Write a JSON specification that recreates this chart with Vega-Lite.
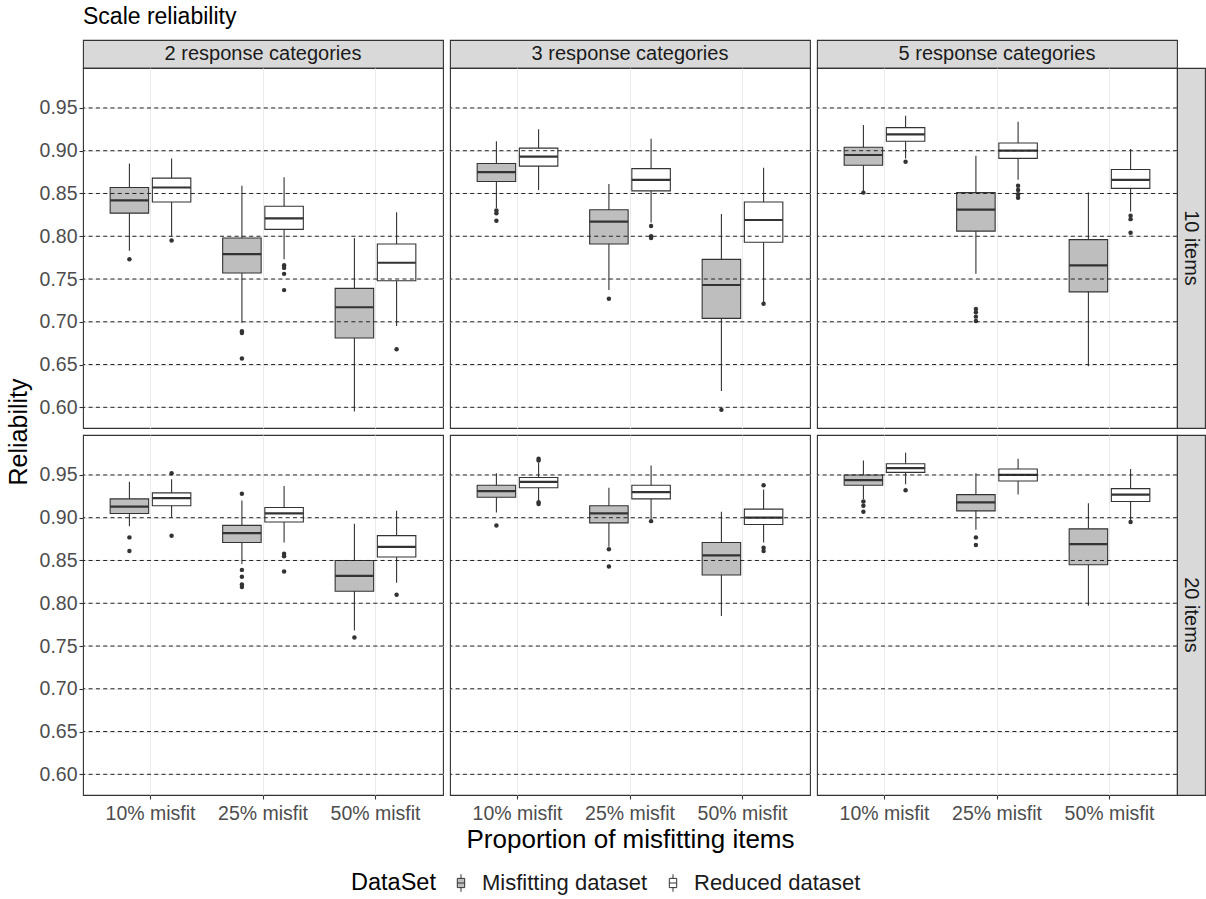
{
"$schema": "https://vega.github.io/schema/vega-lite/v6.json",
"padding": {"left": 5, "top": 6, "right": 0, "bottom": 5},
"title": {"text": "Scale reliability", "anchor": "start", "frame": "group", "fontSize": 23, "fontWeight": "normal", "color": "#000000", "font": "Liberation Sans", "offset": 10},
"config": {
  "font": "Liberation Sans",
  "view": {"stroke": "#333333", "strokeWidth": 1.1},
  "axis": {"domain": false, "labelFont": "Liberation Sans", "titleFont": "Liberation Sans", "labelFontSize": 19.5, "labelColor": "#4D4D4D", "tickColor": "#333333", "tickSize": 4, "tickWidth": 1.1, "titleFontSize": 25, "titleFontWeight": "normal", "titleColor": "#000000", "gridColor": "#EBEBEB", "gridWidth": 1},
  "legend": {"orient": "bottom", "direction": "horizontal", "titleOrient": "left", "titleFontSize": 23.5, "titleFontWeight": "normal", "titleColor": "#000000", "labelFontSize": 22, "labelLimit": 400, "labelColor": "#1A1A1A", "symbolType": "M-0.4,-0.5H0.4V0.5H-0.4Z M0,-0.5V-0.95 M0,0.5V0.95 M-0.4,0H0.4", "symbolSize": 340, "symbolStrokeColor": "#333333", "symbolStrokeWidth": 1, "columnPadding": 14, "labelOffset": 10, "titlePadding": 14, "offset": 18, "layout": {"bottom": {"anchor": "middle", "bounds": "flush"}}}
},
"datasets": {
  "stats": [
    {"cat":"2","items":"10","prop":"10% misfit","set":"Misfitting dataset","lo":0.783,"q1":0.827,"med":0.842,"q3":0.857,"hi":0.885},
    {"cat":"2","items":"10","prop":"10% misfit","set":"Reduced dataset","lo":0.800,"q1":0.840,"med":0.857,"q3":0.868,"hi":0.891},
    {"cat":"2","items":"10","prop":"25% misfit","set":"Misfitting dataset","lo":0.699,"q1":0.757,"med":0.779,"q3":0.798,"hi":0.859},
    {"cat":"2","items":"10","prop":"25% misfit","set":"Reduced dataset","lo":0.773,"q1":0.808,"med":0.821,"q3":0.835,"hi":0.869},
    {"cat":"2","items":"10","prop":"50% misfit","set":"Misfitting dataset","lo":0.595,"q1":0.681,"med":0.717,"q3":0.739,"hi":0.798},
    {"cat":"2","items":"10","prop":"50% misfit","set":"Reduced dataset","lo":0.695,"q1":0.748,"med":0.769,"q3":0.791,"hi":0.828},
    {"cat":"3","items":"10","prop":"10% misfit","set":"Misfitting dataset","lo":0.833,"q1":0.864,"med":0.875,"q3":0.885,"hi":0.911},
    {"cat":"3","items":"10","prop":"10% misfit","set":"Reduced dataset","lo":0.854,"q1":0.882,"med":0.893,"q3":0.903,"hi":0.925},
    {"cat":"3","items":"10","prop":"25% misfit","set":"Misfitting dataset","lo":0.737,"q1":0.791,"med":0.817,"q3":0.831,"hi":0.861},
    {"cat":"3","items":"10","prop":"25% misfit","set":"Reduced dataset","lo":0.816,"q1":0.853,"med":0.866,"q3":0.879,"hi":0.914},
    {"cat":"3","items":"10","prop":"50% misfit","set":"Misfitting dataset","lo":0.619,"q1":0.704,"med":0.743,"q3":0.773,"hi":0.826},
    {"cat":"3","items":"10","prop":"50% misfit","set":"Reduced dataset","lo":0.723,"q1":0.793,"med":0.819,"q3":0.840,"hi":0.880},
    {"cat":"5","items":"10","prop":"10% misfit","set":"Misfitting dataset","lo":0.853,"q1":0.883,"med":0.895,"q3":0.904,"hi":0.930},
    {"cat":"5","items":"10","prop":"10% misfit","set":"Reduced dataset","lo":0.891,"q1":0.911,"med":0.919,"q3":0.927,"hi":0.941},
    {"cat":"5","items":"10","prop":"25% misfit","set":"Misfitting dataset","lo":0.756,"q1":0.806,"med":0.831,"q3":0.851,"hi":0.894},
    {"cat":"5","items":"10","prop":"25% misfit","set":"Reduced dataset","lo":0.866,"q1":0.891,"med":0.900,"q3":0.909,"hi":0.934},
    {"cat":"5","items":"10","prop":"50% misfit","set":"Misfitting dataset","lo":0.648,"q1":0.735,"med":0.766,"q3":0.796,"hi":0.851},
    {"cat":"5","items":"10","prop":"50% misfit","set":"Reduced dataset","lo":0.829,"q1":0.856,"med":0.866,"q3":0.878,"hi":0.902},
    {"cat":"2","items":"20","prop":"10% misfit","set":"Misfitting dataset","lo":0.890,"q1":0.905,"med":0.913,"q3":0.922,"hi":0.942},
    {"cat":"2","items":"20","prop":"10% misfit","set":"Reduced dataset","lo":0.900,"q1":0.914,"med":0.923,"q3":0.929,"hi":0.945},
    {"cat":"2","items":"20","prop":"25% misfit","set":"Misfitting dataset","lo":0.846,"q1":0.871,"med":0.882,"q3":0.891,"hi":0.920},
    {"cat":"2","items":"20","prop":"25% misfit","set":"Reduced dataset","lo":0.871,"q1":0.895,"med":0.905,"q3":0.912,"hi":0.937},
    {"cat":"2","items":"20","prop":"50% misfit","set":"Misfitting dataset","lo":0.768,"q1":0.814,"med":0.832,"q3":0.850,"hi":0.893},
    {"cat":"2","items":"20","prop":"50% misfit","set":"Reduced dataset","lo":0.824,"q1":0.854,"med":0.866,"q3":0.879,"hi":0.908},
    {"cat":"3","items":"20","prop":"10% misfit","set":"Misfitting dataset","lo":0.906,"q1":0.924,"med":0.931,"q3":0.938,"hi":0.952},
    {"cat":"3","items":"20","prop":"10% misfit","set":"Reduced dataset","lo":0.920,"q1":0.935,"med":0.942,"q3":0.947,"hi":0.964},
    {"cat":"3","items":"20","prop":"25% misfit","set":"Misfitting dataset","lo":0.866,"q1":0.894,"med":0.905,"q3":0.914,"hi":0.935},
    {"cat":"3","items":"20","prop":"25% misfit","set":"Reduced dataset","lo":0.898,"q1":0.922,"med":0.930,"q3":0.938,"hi":0.961},
    {"cat":"3","items":"20","prop":"50% misfit","set":"Misfitting dataset","lo":0.785,"q1":0.833,"med":0.856,"q3":0.871,"hi":0.907},
    {"cat":"3","items":"20","prop":"50% misfit","set":"Reduced dataset","lo":0.871,"q1":0.892,"med":0.900,"q3":0.910,"hi":0.933},
    {"cat":"5","items":"20","prop":"10% misfit","set":"Misfitting dataset","lo":0.922,"q1":0.938,"med":0.944,"q3":0.950,"hi":0.967},
    {"cat":"5","items":"20","prop":"10% misfit","set":"Reduced dataset","lo":0.939,"q1":0.953,"med":0.958,"q3":0.963,"hi":0.976},
    {"cat":"5","items":"20","prop":"25% misfit","set":"Misfitting dataset","lo":0.886,"q1":0.908,"med":0.918,"q3":0.927,"hi":0.952},
    {"cat":"5","items":"20","prop":"25% misfit","set":"Reduced dataset","lo":0.927,"q1":0.943,"med":0.950,"q3":0.957,"hi":0.969},
    {"cat":"5","items":"20","prop":"50% misfit","set":"Misfitting dataset","lo":0.797,"q1":0.845,"med":0.869,"q3":0.887,"hi":0.917},
    {"cat":"5","items":"20","prop":"50% misfit","set":"Reduced dataset","lo":0.897,"q1":0.919,"med":0.927,"q3":0.934,"hi":0.957}
  ],
  "outliers": [
    {"cat":"2","items":"10","prop":"10% misfit","set":"Misfitting dataset","v":0.773},
    {"cat":"2","items":"10","prop":"10% misfit","set":"Reduced dataset","v":0.795},
    {"cat":"2","items":"10","prop":"25% misfit","set":"Misfitting dataset","v":0.689},
    {"cat":"2","items":"10","prop":"25% misfit","set":"Misfitting dataset","v":0.687},
    {"cat":"2","items":"10","prop":"25% misfit","set":"Misfitting dataset","v":0.657},
    {"cat":"2","items":"10","prop":"25% misfit","set":"Reduced dataset","v":0.766},
    {"cat":"2","items":"10","prop":"25% misfit","set":"Reduced dataset","v":0.763},
    {"cat":"2","items":"10","prop":"25% misfit","set":"Reduced dataset","v":0.756},
    {"cat":"2","items":"10","prop":"25% misfit","set":"Reduced dataset","v":0.737},
    {"cat":"2","items":"10","prop":"50% misfit","set":"Reduced dataset","v":0.668},
    {"cat":"3","items":"10","prop":"10% misfit","set":"Misfitting dataset","v":0.830},
    {"cat":"3","items":"10","prop":"10% misfit","set":"Misfitting dataset","v":0.827},
    {"cat":"3","items":"10","prop":"10% misfit","set":"Misfitting dataset","v":0.818},
    {"cat":"3","items":"10","prop":"25% misfit","set":"Misfitting dataset","v":0.727},
    {"cat":"3","items":"10","prop":"25% misfit","set":"Reduced dataset","v":0.812},
    {"cat":"3","items":"10","prop":"25% misfit","set":"Reduced dataset","v":0.800},
    {"cat":"3","items":"10","prop":"25% misfit","set":"Reduced dataset","v":0.798},
    {"cat":"3","items":"10","prop":"50% misfit","set":"Misfitting dataset","v":0.597},
    {"cat":"3","items":"10","prop":"50% misfit","set":"Reduced dataset","v":0.721},
    {"cat":"5","items":"10","prop":"10% misfit","set":"Misfitting dataset","v":0.851},
    {"cat":"5","items":"10","prop":"10% misfit","set":"Reduced dataset","v":0.887},
    {"cat":"5","items":"10","prop":"25% misfit","set":"Misfitting dataset","v":0.715},
    {"cat":"5","items":"10","prop":"25% misfit","set":"Misfitting dataset","v":0.711},
    {"cat":"5","items":"10","prop":"25% misfit","set":"Misfitting dataset","v":0.706},
    {"cat":"5","items":"10","prop":"25% misfit","set":"Misfitting dataset","v":0.701},
    {"cat":"5","items":"10","prop":"25% misfit","set":"Reduced dataset","v":0.859},
    {"cat":"5","items":"10","prop":"25% misfit","set":"Reduced dataset","v":0.854},
    {"cat":"5","items":"10","prop":"25% misfit","set":"Reduced dataset","v":0.849},
    {"cat":"5","items":"10","prop":"25% misfit","set":"Reduced dataset","v":0.845},
    {"cat":"5","items":"10","prop":"50% misfit","set":"Reduced dataset","v":0.824},
    {"cat":"5","items":"10","prop":"50% misfit","set":"Reduced dataset","v":0.820},
    {"cat":"5","items":"10","prop":"50% misfit","set":"Reduced dataset","v":0.804},
    {"cat":"2","items":"20","prop":"10% misfit","set":"Misfitting dataset","v":0.877},
    {"cat":"2","items":"20","prop":"10% misfit","set":"Misfitting dataset","v":0.861},
    {"cat":"2","items":"20","prop":"10% misfit","set":"Reduced dataset","v":0.952},
    {"cat":"2","items":"20","prop":"10% misfit","set":"Reduced dataset","v":0.879},
    {"cat":"2","items":"20","prop":"25% misfit","set":"Misfitting dataset","v":0.928},
    {"cat":"2","items":"20","prop":"25% misfit","set":"Misfitting dataset","v":0.839},
    {"cat":"2","items":"20","prop":"25% misfit","set":"Misfitting dataset","v":0.831},
    {"cat":"2","items":"20","prop":"25% misfit","set":"Misfitting dataset","v":0.822},
    {"cat":"2","items":"20","prop":"25% misfit","set":"Misfitting dataset","v":0.819},
    {"cat":"2","items":"20","prop":"25% misfit","set":"Reduced dataset","v":0.858},
    {"cat":"2","items":"20","prop":"25% misfit","set":"Reduced dataset","v":0.855},
    {"cat":"2","items":"20","prop":"25% misfit","set":"Reduced dataset","v":0.837},
    {"cat":"2","items":"20","prop":"50% misfit","set":"Misfitting dataset","v":0.760},
    {"cat":"2","items":"20","prop":"50% misfit","set":"Reduced dataset","v":0.810},
    {"cat":"3","items":"20","prop":"10% misfit","set":"Misfitting dataset","v":0.891},
    {"cat":"3","items":"20","prop":"10% misfit","set":"Reduced dataset","v":0.969},
    {"cat":"3","items":"20","prop":"10% misfit","set":"Reduced dataset","v":0.967},
    {"cat":"3","items":"20","prop":"10% misfit","set":"Reduced dataset","v":0.918},
    {"cat":"3","items":"20","prop":"10% misfit","set":"Reduced dataset","v":0.916},
    {"cat":"3","items":"20","prop":"25% misfit","set":"Misfitting dataset","v":0.863},
    {"cat":"3","items":"20","prop":"25% misfit","set":"Misfitting dataset","v":0.843},
    {"cat":"3","items":"20","prop":"25% misfit","set":"Reduced dataset","v":0.896},
    {"cat":"3","items":"20","prop":"50% misfit","set":"Reduced dataset","v":0.938},
    {"cat":"3","items":"20","prop":"50% misfit","set":"Reduced dataset","v":0.865},
    {"cat":"3","items":"20","prop":"50% misfit","set":"Reduced dataset","v":0.861},
    {"cat":"5","items":"20","prop":"10% misfit","set":"Misfitting dataset","v":0.919},
    {"cat":"5","items":"20","prop":"10% misfit","set":"Misfitting dataset","v":0.914},
    {"cat":"5","items":"20","prop":"10% misfit","set":"Misfitting dataset","v":0.907},
    {"cat":"5","items":"20","prop":"10% misfit","set":"Reduced dataset","v":0.932},
    {"cat":"5","items":"20","prop":"25% misfit","set":"Misfitting dataset","v":0.877},
    {"cat":"5","items":"20","prop":"25% misfit","set":"Misfitting dataset","v":0.868},
    {"cat":"5","items":"20","prop":"50% misfit","set":"Reduced dataset","v":0.895}
  ],
  "hlines": [{"y":0.60},{"y":0.65},{"y":0.70},{"y":0.75},{"y":0.80},{"y":0.85},{"y":0.90},{"y":0.95}]
},
"bounds": "flush",
"spacing": 0,
"columns": 6,
"concat": [
  {"width":360,"height":28,"data":{"values":[{"label":"2 response categories"}]},"mark":{"type":"text","fontSize":20,"color":"#1A1A1A"},"encoding":{"text":{"field":"label","type":"nominal"}},"view":{"fill":"#D9D9D9","stroke":"#333333","strokeWidth":1.1}},
  {"width":7,"height":7,"data":{"values":[{"a":1}]},"mark":{"type":"point","opacity":0},"encoding":{},"view":{"stroke":null}},
  {"width":360,"height":28,"data":{"values":[{"label":"3 response categories"}]},"mark":{"type":"text","fontSize":20,"color":"#1A1A1A"},"encoding":{"text":{"field":"label","type":"nominal"}},"view":{"fill":"#D9D9D9","stroke":"#333333","strokeWidth":1.1}},
  {"width":7,"height":7,"data":{"values":[{"a":1}]},"mark":{"type":"point","opacity":0},"encoding":{},"view":{"stroke":null}},
  {"width":360,"height":28,"data":{"values":[{"label":"5 response categories"}]},"mark":{"type":"text","fontSize":20,"color":"#1A1A1A"},"encoding":{"text":{"field":"label","type":"nominal"}},"view":{"fill":"#D9D9D9","stroke":"#333333","strokeWidth":1.1}},
  {"width":7,"height":7,"data":{"values":[{"a":1}]},"mark":{"type":"point","opacity":0},"encoding":{},"view":{"stroke":null}},

  {"width":360,"height":360,
   "layer":[
    {"data":{"name":"stats"},"transform":[{"filter":"datum.cat=='2' && datum.items=='10'"}],"mark":{"type":"rule","color":"#333333","strokeWidth":1.1},
     "encoding":{"x":{"field":"prop","type":"nominal","scale":{"domain":["10% misfit","25% misfit","50% misfit"],"paddingInner":0.25,"paddingOuter":0.225},"axis":{"labels":false,"ticks":false,"title":null,"grid":true,"bandPosition":0.5}},
      "xOffset":{"field":"set","type":"nominal","scale":{"domain":["Misfitting dataset","Reduced dataset"],"paddingInner":0.088,"paddingOuter":0.044}},
      "y":{"field":"lo","type":"quantitative","scale":{"domain":[0.5758,0.9967],"nice":false,"zero":false},"axis":{"values":[0.6,0.625,0.65,0.675,0.7,0.725,0.75,0.775,0.8,0.825,0.85,0.875,0.9,0.925,0.95,0.975],"labelExpr":"abs(datum.value*20-round(datum.value*20))<0.001 ? format(datum.value,'.2f') : ''","tickOpacity":{"condition":{"test":"abs(datum.value*20-round(datum.value*20))<0.001","value":1},"value":0},"gridColor":{"condition":{"test":"abs(datum.value*20-round(datum.value*20))<0.001","value":"#EBEBEB"},"value":"#F2F2F2"},"labelPadding":2,"title":"Reliability","titleY":363.5,"titlePadding":8}},
      "y2":{"field":"hi"}}},
    {"data":{"name":"stats"},"transform":[{"filter":"datum.cat=='2' && datum.items=='10'"}],"mark":{"type":"bar","stroke":"#333333","strokeWidth":1.1},
     "encoding":{"x":{"field":"prop","type":"nominal"},"xOffset":{"field":"set","type":"nominal"},
      "y":{"field":"q1","type":"quantitative"},"y2":{"field":"q3"},
      "fill":{"field":"set","type":"nominal","title":"DataSet","scale":{"domain":["Misfitting dataset","Reduced dataset"],"range":["#BEBEBE","#FFFFFF"]}}}},
    {"data":{"name":"stats"},"transform":[{"filter":"datum.cat=='2' && datum.items=='10'"}],"mark":{"type":"bar","stroke":"#333333","strokeWidth":2.2,"fill":"transparent"},
     "encoding":{"x":{"field":"prop","type":"nominal"},"xOffset":{"field":"set","type":"nominal"},"y":{"field":"med","type":"quantitative"},"y2":{"field":"med"}}},
    {"data":{"name":"outliers"},"transform":[{"filter":"datum.cat=='2' && datum.items=='10'"}],"mark":{"type":"point","filled":true,"color":"#333333","size":20,"opacity":1},
     "encoding":{"x":{"field":"prop","type":"nominal"},"xOffset":{"field":"set","type":"nominal"},"y":{"field":"v","type":"quantitative"}}},
    {"data":{"name":"hlines"},"mark":{"type":"rule","color":"#222222","strokeWidth":1,"strokeDash":[4,3.3]},
     "encoding":{"y":{"field":"y","type":"quantitative"}}}
   ]},
  {"width":7,"height":7,"data":{"values":[{"a":1}]},"mark":{"type":"point","opacity":0},"encoding":{},"view":{"stroke":null}},
  {"width":360,"height":360,
   "layer":[
    {"data":{"name":"stats"},"transform":[{"filter":"datum.cat=='3' && datum.items=='10'"}],"mark":{"type":"rule","color":"#333333","strokeWidth":1.1},
     "encoding":{"x":{"field":"prop","type":"nominal","scale":{"domain":["10% misfit","25% misfit","50% misfit"],"paddingInner":0.25,"paddingOuter":0.225},"axis":{"labels":false,"ticks":false,"title":null,"grid":true,"bandPosition":0.5}},
      "xOffset":{"field":"set","type":"nominal","scale":{"domain":["Misfitting dataset","Reduced dataset"],"paddingInner":0.088,"paddingOuter":0.044}},
      "y":{"field":"lo","type":"quantitative","scale":{"domain":[0.5758,0.9967],"nice":false,"zero":false},"axis":{"values":[0.6,0.625,0.65,0.675,0.7,0.725,0.75,0.775,0.8,0.825,0.85,0.875,0.9,0.925,0.95,0.975],"labels":false,"ticks":false,"title":null,"gridColor":{"condition":{"test":"abs(datum.value*20-round(datum.value*20))<0.001","value":"#EBEBEB"},"value":"#F2F2F2"}}},
      "y2":{"field":"hi"}}},
    {"data":{"name":"stats"},"transform":[{"filter":"datum.cat=='3' && datum.items=='10'"}],"mark":{"type":"bar","stroke":"#333333","strokeWidth":1.1},
     "encoding":{"x":{"field":"prop","type":"nominal"},"xOffset":{"field":"set","type":"nominal"},
      "y":{"field":"q1","type":"quantitative"},"y2":{"field":"q3"},
      "fill":{"field":"set","type":"nominal","title":"DataSet","scale":{"domain":["Misfitting dataset","Reduced dataset"],"range":["#BEBEBE","#FFFFFF"]}}}},
    {"data":{"name":"stats"},"transform":[{"filter":"datum.cat=='3' && datum.items=='10'"}],"mark":{"type":"bar","stroke":"#333333","strokeWidth":2.2,"fill":"transparent"},
     "encoding":{"x":{"field":"prop","type":"nominal"},"xOffset":{"field":"set","type":"nominal"},"y":{"field":"med","type":"quantitative"},"y2":{"field":"med"}}},
    {"data":{"name":"outliers"},"transform":[{"filter":"datum.cat=='3' && datum.items=='10'"}],"mark":{"type":"point","filled":true,"color":"#333333","size":20,"opacity":1},
     "encoding":{"x":{"field":"prop","type":"nominal"},"xOffset":{"field":"set","type":"nominal"},"y":{"field":"v","type":"quantitative"}}},
    {"data":{"name":"hlines"},"mark":{"type":"rule","color":"#222222","strokeWidth":1,"strokeDash":[4,3.3]},
     "encoding":{"y":{"field":"y","type":"quantitative"}}}
   ]},
  {"width":7,"height":7,"data":{"values":[{"a":1}]},"mark":{"type":"point","opacity":0},"encoding":{},"view":{"stroke":null}},
  {"width":360,"height":360,
   "layer":[
    {"data":{"name":"stats"},"transform":[{"filter":"datum.cat=='5' && datum.items=='10'"}],"mark":{"type":"rule","color":"#333333","strokeWidth":1.1},
     "encoding":{"x":{"field":"prop","type":"nominal","scale":{"domain":["10% misfit","25% misfit","50% misfit"],"paddingInner":0.25,"paddingOuter":0.225},"axis":{"labels":false,"ticks":false,"title":null,"grid":true,"bandPosition":0.5}},
      "xOffset":{"field":"set","type":"nominal","scale":{"domain":["Misfitting dataset","Reduced dataset"],"paddingInner":0.088,"paddingOuter":0.044}},
      "y":{"field":"lo","type":"quantitative","scale":{"domain":[0.5758,0.9967],"nice":false,"zero":false},"axis":{"values":[0.6,0.625,0.65,0.675,0.7,0.725,0.75,0.775,0.8,0.825,0.85,0.875,0.9,0.925,0.95,0.975],"labels":false,"ticks":false,"title":null,"gridColor":{"condition":{"test":"abs(datum.value*20-round(datum.value*20))<0.001","value":"#EBEBEB"},"value":"#F2F2F2"}}},
      "y2":{"field":"hi"}}},
    {"data":{"name":"stats"},"transform":[{"filter":"datum.cat=='5' && datum.items=='10'"}],"mark":{"type":"bar","stroke":"#333333","strokeWidth":1.1},
     "encoding":{"x":{"field":"prop","type":"nominal"},"xOffset":{"field":"set","type":"nominal"},
      "y":{"field":"q1","type":"quantitative"},"y2":{"field":"q3"},
      "fill":{"field":"set","type":"nominal","title":"DataSet","scale":{"domain":["Misfitting dataset","Reduced dataset"],"range":["#BEBEBE","#FFFFFF"]}}}},
    {"data":{"name":"stats"},"transform":[{"filter":"datum.cat=='5' && datum.items=='10'"}],"mark":{"type":"bar","stroke":"#333333","strokeWidth":2.2,"fill":"transparent"},
     "encoding":{"x":{"field":"prop","type":"nominal"},"xOffset":{"field":"set","type":"nominal"},"y":{"field":"med","type":"quantitative"},"y2":{"field":"med"}}},
    {"data":{"name":"outliers"},"transform":[{"filter":"datum.cat=='5' && datum.items=='10'"}],"mark":{"type":"point","filled":true,"color":"#333333","size":20,"opacity":1},
     "encoding":{"x":{"field":"prop","type":"nominal"},"xOffset":{"field":"set","type":"nominal"},"y":{"field":"v","type":"quantitative"}}},
    {"data":{"name":"hlines"},"mark":{"type":"rule","color":"#222222","strokeWidth":1,"strokeDash":[4,3.3]},
     "encoding":{"y":{"field":"y","type":"quantitative"}}}
   ]},
  {"width":28,"height":360,"data":{"values":[{"label":"10 items"}]},"mark":{"type":"text","fontSize":20,"color":"#1A1A1A","angle":90},"encoding":{"text":{"field":"label","type":"nominal"}},"view":{"fill":"#D9D9D9","stroke":"#333333","strokeWidth":1.1}},

  {"width":7,"height":7,"data":{"values":[{"a":1}]},"mark":{"type":"point","opacity":0},"encoding":{},"view":{"stroke":null}},
  {"width":7,"height":7,"data":{"values":[{"a":1}]},"mark":{"type":"point","opacity":0},"encoding":{},"view":{"stroke":null}},
  {"width":7,"height":7,"data":{"values":[{"a":1}]},"mark":{"type":"point","opacity":0},"encoding":{},"view":{"stroke":null}},
  {"width":7,"height":7,"data":{"values":[{"a":1}]},"mark":{"type":"point","opacity":0},"encoding":{},"view":{"stroke":null}},
  {"width":7,"height":7,"data":{"values":[{"a":1}]},"mark":{"type":"point","opacity":0},"encoding":{},"view":{"stroke":null}},
  {"width":7,"height":7,"data":{"values":[{"a":1}]},"mark":{"type":"point","opacity":0},"encoding":{},"view":{"stroke":null}},

  {"width":360,"height":360,
   "layer":[
    {"data":{"name":"stats"},"transform":[{"filter":"datum.cat=='2' && datum.items=='20'"}],"mark":{"type":"rule","color":"#333333","strokeWidth":1.1},
     "encoding":{"x":{"field":"prop","type":"nominal","scale":{"domain":["10% misfit","25% misfit","50% misfit"],"paddingInner":0.25,"paddingOuter":0.225},"axis":{"labelAngle":0,"labelPadding":5,"title":null,"grid":true,"bandPosition":0.5}},
      "xOffset":{"field":"set","type":"nominal","scale":{"domain":["Misfitting dataset","Reduced dataset"],"paddingInner":0.088,"paddingOuter":0.044}},
      "y":{"field":"lo","type":"quantitative","scale":{"domain":[0.5758,0.9967],"nice":false,"zero":false},"axis":{"values":[0.6,0.625,0.65,0.675,0.7,0.725,0.75,0.775,0.8,0.825,0.85,0.875,0.9,0.925,0.95,0.975],"labelExpr":"abs(datum.value*20-round(datum.value*20))<0.001 ? format(datum.value,'.2f') : ''","tickOpacity":{"condition":{"test":"abs(datum.value*20-round(datum.value*20))<0.001","value":1},"value":0},"gridColor":{"condition":{"test":"abs(datum.value*20-round(datum.value*20))<0.001","value":"#EBEBEB"},"value":"#F2F2F2"},"labelPadding":2,"title":null}},
      "y2":{"field":"hi"}}},
    {"data":{"name":"stats"},"transform":[{"filter":"datum.cat=='2' && datum.items=='20'"}],"mark":{"type":"bar","stroke":"#333333","strokeWidth":1.1},
     "encoding":{"x":{"field":"prop","type":"nominal"},"xOffset":{"field":"set","type":"nominal"},
      "y":{"field":"q1","type":"quantitative"},"y2":{"field":"q3"},
      "fill":{"field":"set","type":"nominal","title":"DataSet","scale":{"domain":["Misfitting dataset","Reduced dataset"],"range":["#BEBEBE","#FFFFFF"]}}}},
    {"data":{"name":"stats"},"transform":[{"filter":"datum.cat=='2' && datum.items=='20'"}],"mark":{"type":"bar","stroke":"#333333","strokeWidth":2.2,"fill":"transparent"},
     "encoding":{"x":{"field":"prop","type":"nominal"},"xOffset":{"field":"set","type":"nominal"},"y":{"field":"med","type":"quantitative"},"y2":{"field":"med"}}},
    {"data":{"name":"outliers"},"transform":[{"filter":"datum.cat=='2' && datum.items=='20'"}],"mark":{"type":"point","filled":true,"color":"#333333","size":20,"opacity":1},
     "encoding":{"x":{"field":"prop","type":"nominal"},"xOffset":{"field":"set","type":"nominal"},"y":{"field":"v","type":"quantitative"}}},
    {"data":{"name":"hlines"},"mark":{"type":"rule","color":"#222222","strokeWidth":1,"strokeDash":[4,3.3]},
     "encoding":{"y":{"field":"y","type":"quantitative"}}}
   ]},
  {"width":7,"height":7,"data":{"values":[{"a":1}]},"mark":{"type":"point","opacity":0},"encoding":{},"view":{"stroke":null}},
  {"width":360,"height":360,
   "layer":[
    {"data":{"name":"stats"},"transform":[{"filter":"datum.cat=='3' && datum.items=='20'"}],"mark":{"type":"rule","color":"#333333","strokeWidth":1.1},
     "encoding":{"x":{"field":"prop","type":"nominal","scale":{"domain":["10% misfit","25% misfit","50% misfit"],"paddingInner":0.25,"paddingOuter":0.225},"axis":{"labelAngle":0,"labelPadding":5,"title":"Proportion of misfitting items","titleFontSize":26,"titlePadding":4,"grid":true,"bandPosition":0.5}},
      "xOffset":{"field":"set","type":"nominal","scale":{"domain":["Misfitting dataset","Reduced dataset"],"paddingInner":0.088,"paddingOuter":0.044}},
      "y":{"field":"lo","type":"quantitative","scale":{"domain":[0.5758,0.9967],"nice":false,"zero":false},"axis":{"values":[0.6,0.625,0.65,0.675,0.7,0.725,0.75,0.775,0.8,0.825,0.85,0.875,0.9,0.925,0.95,0.975],"labels":false,"ticks":false,"title":null,"gridColor":{"condition":{"test":"abs(datum.value*20-round(datum.value*20))<0.001","value":"#EBEBEB"},"value":"#F2F2F2"}}},
      "y2":{"field":"hi"}}},
    {"data":{"name":"stats"},"transform":[{"filter":"datum.cat=='3' && datum.items=='20'"}],"mark":{"type":"bar","stroke":"#333333","strokeWidth":1.1},
     "encoding":{"x":{"field":"prop","type":"nominal"},"xOffset":{"field":"set","type":"nominal"},
      "y":{"field":"q1","type":"quantitative"},"y2":{"field":"q3"},
      "fill":{"field":"set","type":"nominal","title":"DataSet","scale":{"domain":["Misfitting dataset","Reduced dataset"],"range":["#BEBEBE","#FFFFFF"]}}}},
    {"data":{"name":"stats"},"transform":[{"filter":"datum.cat=='3' && datum.items=='20'"}],"mark":{"type":"bar","stroke":"#333333","strokeWidth":2.2,"fill":"transparent"},
     "encoding":{"x":{"field":"prop","type":"nominal"},"xOffset":{"field":"set","type":"nominal"},"y":{"field":"med","type":"quantitative"},"y2":{"field":"med"}}},
    {"data":{"name":"outliers"},"transform":[{"filter":"datum.cat=='3' && datum.items=='20'"}],"mark":{"type":"point","filled":true,"color":"#333333","size":20,"opacity":1},
     "encoding":{"x":{"field":"prop","type":"nominal"},"xOffset":{"field":"set","type":"nominal"},"y":{"field":"v","type":"quantitative"}}},
    {"data":{"name":"hlines"},"mark":{"type":"rule","color":"#222222","strokeWidth":1,"strokeDash":[4,3.3]},
     "encoding":{"y":{"field":"y","type":"quantitative"}}}
   ]},
  {"width":7,"height":7,"data":{"values":[{"a":1}]},"mark":{"type":"point","opacity":0},"encoding":{},"view":{"stroke":null}},
  {"width":360,"height":360,
   "layer":[
    {"data":{"name":"stats"},"transform":[{"filter":"datum.cat=='5' && datum.items=='20'"}],"mark":{"type":"rule","color":"#333333","strokeWidth":1.1},
     "encoding":{"x":{"field":"prop","type":"nominal","scale":{"domain":["10% misfit","25% misfit","50% misfit"],"paddingInner":0.25,"paddingOuter":0.225},"axis":{"labelAngle":0,"labelPadding":5,"title":null,"grid":true,"bandPosition":0.5}},
      "xOffset":{"field":"set","type":"nominal","scale":{"domain":["Misfitting dataset","Reduced dataset"],"paddingInner":0.088,"paddingOuter":0.044}},
      "y":{"field":"lo","type":"quantitative","scale":{"domain":[0.5758,0.9967],"nice":false,"zero":false},"axis":{"values":[0.6,0.625,0.65,0.675,0.7,0.725,0.75,0.775,0.8,0.825,0.85,0.875,0.9,0.925,0.95,0.975],"labels":false,"ticks":false,"title":null,"gridColor":{"condition":{"test":"abs(datum.value*20-round(datum.value*20))<0.001","value":"#EBEBEB"},"value":"#F2F2F2"}}},
      "y2":{"field":"hi"}}},
    {"data":{"name":"stats"},"transform":[{"filter":"datum.cat=='5' && datum.items=='20'"}],"mark":{"type":"bar","stroke":"#333333","strokeWidth":1.1},
     "encoding":{"x":{"field":"prop","type":"nominal"},"xOffset":{"field":"set","type":"nominal"},
      "y":{"field":"q1","type":"quantitative"},"y2":{"field":"q3"},
      "fill":{"field":"set","type":"nominal","title":"DataSet","scale":{"domain":["Misfitting dataset","Reduced dataset"],"range":["#BEBEBE","#FFFFFF"]}}}},
    {"data":{"name":"stats"},"transform":[{"filter":"datum.cat=='5' && datum.items=='20'"}],"mark":{"type":"bar","stroke":"#333333","strokeWidth":2.2,"fill":"transparent"},
     "encoding":{"x":{"field":"prop","type":"nominal"},"xOffset":{"field":"set","type":"nominal"},"y":{"field":"med","type":"quantitative"},"y2":{"field":"med"}}},
    {"data":{"name":"outliers"},"transform":[{"filter":"datum.cat=='5' && datum.items=='20'"}],"mark":{"type":"point","filled":true,"color":"#333333","size":20,"opacity":1},
     "encoding":{"x":{"field":"prop","type":"nominal"},"xOffset":{"field":"set","type":"nominal"},"y":{"field":"v","type":"quantitative"}}},
    {"data":{"name":"hlines"},"mark":{"type":"rule","color":"#222222","strokeWidth":1,"strokeDash":[4,3.3]},
     "encoding":{"y":{"field":"y","type":"quantitative"}}}
   ]},
  {"width":28,"height":360,"data":{"values":[{"label":"20 items"}]},"mark":{"type":"text","fontSize":20,"color":"#1A1A1A","angle":90},"encoding":{"text":{"field":"label","type":"nominal"}},"view":{"fill":"#D9D9D9","stroke":"#333333","strokeWidth":1.1}}
]
}
